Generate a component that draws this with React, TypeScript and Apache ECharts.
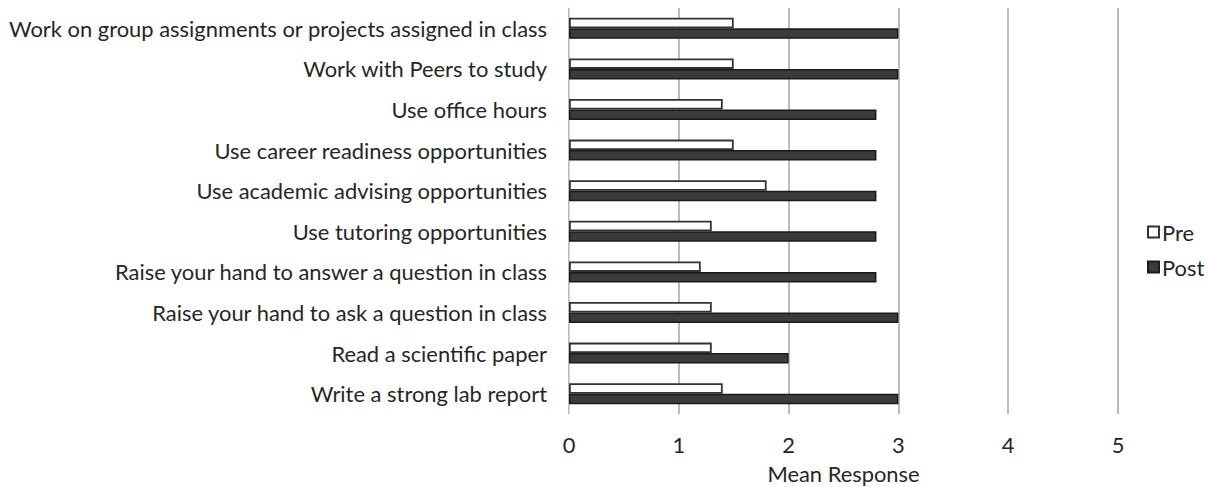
import React, { useEffect, useRef } from "react";
import * as echarts from "echarts";

const categories = [
  "Work on group assignments or projects assigned in class",
  "Work with Peers to study",
  "Use office hours",
  "Use career readiness opportunities",
  "Use academic advising opportunities",
  "Use tutoring opportunities",
  "Raise your hand to answer a question in class",
  "Raise your hand to ask a question in class",
  "Read a scientific paper",
  "Write a strong lab report",
];
const preValues = [1.5, 1.5, 1.4, 1.5, 1.8, 1.3, 1.2, 1.3, 1.3, 1.4];
const postValues = [3.0, 3.0, 2.8, 2.8, 2.8, 2.8, 2.8, 3.0, 2.0, 3.0];
const seriesNames = ["Pre", "Post"];
const xTicks = [0, 1, 2, 3, 4, 5];

const FONT = "Lato, 'Open Sans', sans-serif";
const FS = 21.9;
const TXT = "#262626";

export default function App() {
  const ref = useRef<HTMLDivElement>(null);
  useEffect(() => {
    document.body.style.margin = "0";
    const chart = echarts.init(ref.current!, undefined, { renderer: "svg" });
    chart.setOption({
      animation: false,
      backgroundColor: "#ffffff",
      textStyle: { fontFamily: FONT },
      grid: { left: 569, right: 92, top: 8, bottom: 73, containLabel: false, outerBoundsMode: "none" },
      legend: {
        orient: "vertical",
        left: 1142,
        top: 216,
        itemWidth: 11,
        itemHeight: 11,
        itemGap: 13,
        icon: "rect",
        textStyle: { fontFamily: FONT, fontSize: FS, color: TXT, padding: [0, 0, 0, -2] },
        data: seriesNames,
      },
      xAxis: {
        type: "value",
        min: xTicks[0],
        max: xTicks[xTicks.length - 1],
        interval: 1,
        name: "Mean Response",
        nameLocation: "middle",
        nameGap: 48,
        nameTextStyle: { fontFamily: FONT, fontSize: FS, color: TXT },
        axisLine: { show: false },
        axisTick: { show: false },
        axisLabel: { fontFamily: FONT, fontSize: FS, color: TXT, margin: 19 },
        splitLine: { show: true, lineStyle: { color: "#a6a6a6", width: 1.5 } },
      },
      yAxis: {
        type: "category",
        inverse: true,
        data: categories,
        axisLine: { show: true, lineStyle: { color: "#d4d4d4", width: 1 } },
        axisTick: { show: false },
        axisLabel: { fontFamily: FONT, fontSize: FS, color: TXT, margin: 22 },
      },
      series: [
        {
          name: seriesNames[0],
          type: "bar",
          data: preValues,
          barWidth: 10.5,
          barGap: "0%",
          itemStyle: { color: "#ffffff", borderColor: "#333333", borderWidth: 1.8 },
        },
        {
          name: seriesNames[1],
          type: "bar",
          data: postValues,
          barWidth: 10.5,
          barGap: "0%",
          itemStyle: { color: "#3b3b3b", borderColor: "#1a1a1a", borderWidth: 1.5 },
        },
      ],
    });
    return () => chart.dispose();
  }, []);
  return <div ref={ref} style={{ position: "absolute", left: 0, top: 0, width: 1210, height: 487 }} />;
}
